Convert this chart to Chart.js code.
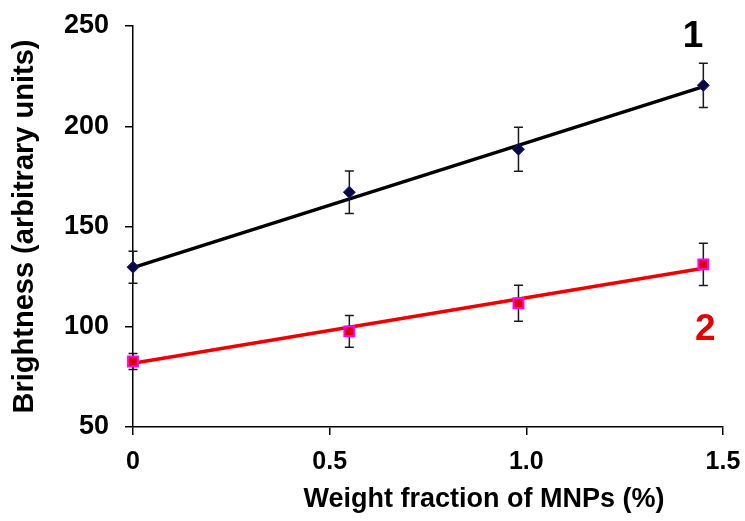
<!DOCTYPE html>
<html>
<head>
<meta charset="utf-8">
<script src="https://cdn.jsdelivr.net/npm/chart.js@4"></script>
<style>
  html, body { margin: 0; background: #fff; }
  #wrap { width: 745px; height: 521px; }
</style>
</head>
<body>
<div id="wrap"><canvas id="Chart"></canvas></div>
<script>
// values
const fractions = [0, 0.55, 0.98, 1.45];
const brightness1 = [129.7, 167.1, 188.5, 220.4];
const errors1 = [8, 10.6, 11, 11];
const brightness2 = [82.7, 97.7, 111.7, 131.1];
const errors2 = [4, 7.9, 9, 10.5];

// fitted lines (end points)
const trendX = [0, 1.45];
const trend1 = [129.5, 219.8];
const trend2 = [81.8, 129.2];

const xTicks = [0, 0.5, 1.0, 1.5];
const yTicks = [50, 100, 150, 200, 250];

const curveNames = ['1', '2'];
const curveNameX = [1.424, 1.455];
const curveNameY = [244.5, 98.5];
const curveColors = ['#000000', '#e60000'];

const FONT = '"Liberation Sans", Arial, sans-serif';

const toPoints = (xs, ys) => xs.map((x, i) => ({ x: x, y: ys[i] }));

const chartCanvas = document.getElementById('Chart');
const ctx = chartCanvas.getContext('2d');

// vertical error bars, drawn just before the marker dataset
const errorBars = {
  id: 'errorBars',
  beforeDatasetDraw(chart, args) {
    const ds = chart.data.datasets[args.index];
    if (!ds.errors) return;
    const { ctx, scales: { x, y } } = chart;
    ctx.save();
    ctx.strokeStyle = '#1a1a1a';
    ctx.lineWidth = 1.5;
    ds.data.forEach((p, i) => {
      const px = x.getPixelForValue(p.x);
      const top = y.getPixelForValue(p.y + ds.errors[i]);
      const bot = y.getPixelForValue(p.y - ds.errors[i]);
      ctx.beginPath();
      ctx.moveTo(px, top); ctx.lineTo(px, bot);
      ctx.moveTo(px - 4.5, top); ctx.lineTo(px + 4.5, top);
      ctx.moveTo(px - 4.5, bot); ctx.lineTo(px + 4.5, bot);
      ctx.stroke();
    });
    ctx.restore();
  }
};

// curve numbers and the x axis title
const labels = {
  id: 'labels',
  afterDraw(chart) {
    const { ctx, scales: { x, y } } = chart;
    ctx.save();
    ctx.textAlign = 'center';
    ctx.textBaseline = 'middle';
    ctx.font = 'bold 37px ' + FONT;
    curveNames.forEach((t, i) => {
      ctx.fillStyle = curveColors[i];
      ctx.fillText(t, x.getPixelForValue(curveNameX[i]), y.getPixelForValue(curveNameY[i]));
    });
    ctx.fillStyle = '#000';
    ctx.font = 'bold 27px ' + FONT;
    ctx.fillText('Weight fraction of MNPs (%)', 484, 500);
    ctx.restore();
  }
};

const chart = new Chart(ctx, {
  type: 'scatter',
  data: {
    datasets: [
      {
        data: toPoints(fractions, brightness1),
        errors: errors1,
        pointStyle: 'rectRot',
        pointRadius: 6,
        pointBackgroundColor: '#0a0a40',
        pointBorderColor: '#1a1a8c',
        pointBorderWidth: 1,
        showLine: false,
        clip: false
      },
      {
        data: toPoints(fractions, brightness2),
        errors: errors2,
        pointStyle: 'rect',
        pointRadius: 7,
        pointBackgroundColor: '#dd0000',
        pointBorderColor: '#ff00ff',
        pointBorderWidth: 2,
        showLine: false,
        clip: false
      },
      {
        data: toPoints(trendX, trend1),
        showLine: true,
        borderColor: '#000000',
        borderWidth: 3.5,
        pointRadius: 0,
        clip: false
      },
      {
        data: toPoints(trendX, trend2),
        showLine: true,
        borderColor: '#ee0000',
        borderWidth: 3.5,
        pointRadius: 0,
        clip: false
      }
    ]
  },
  options: {
    responsive: true,
    maintainAspectRatio: false,
    animation: false,
    layout: { padding: { top: 26, right: 22, left: 0, bottom: 0 } },
    plugins: {
      legend: { display: false },
      tooltip: { enabled: false }
    },
    scales: {
      x: {
        type: 'linear',
        min: 0,
        max: 1.5,
        afterBuildTicks: (scale) => { scale.ticks = xTicks.map(v => ({ value: v })); },
        afterFit: (scale) => {
          scale.height = 94;
          scale.paddingLeft = 0;
          scale.paddingRight = 0;
        },
        border: { color: '#000', width: 1.5 },
        grid: { drawOnChartArea: false, tickLength: 8, color: '#000', lineWidth: 1.5 },
        ticks: {
          color: '#000',
          padding: 12,
          font: { family: FONT, size: 25, weight: 'bold' },
          callback: (v) => (v === 0 ? '0' : v.toFixed(1))
        }
      },
      y: {
        min: 50,
        max: 250,
        afterBuildTicks: (scale) => { scale.ticks = yTicks.map(v => ({ value: v })); },
        afterFit: (scale) => {
          scale.width = 133;
          scale.paddingTop = 0;
          scale.paddingBottom = 0;
        },
        border: { color: '#000', width: 1.5 },
        grid: { drawOnChartArea: false, tickLength: 8, color: '#000', lineWidth: 1.5 },
        ticks: {
          color: '#000',
          padding: 16,
          font: { family: FONT, size: 27, weight: 'bold' }
        },
        title: {
          display: true,
          text: 'Brightness (arbitrary units)',
          color: '#000',
          padding: { top: 8, bottom: 0 },
          font: { family: FONT, size: 29, weight: 'bold' }
        }
      }
    }
  },
  plugins: [errorBars, labels]
});
</script>
</body>
</html>
